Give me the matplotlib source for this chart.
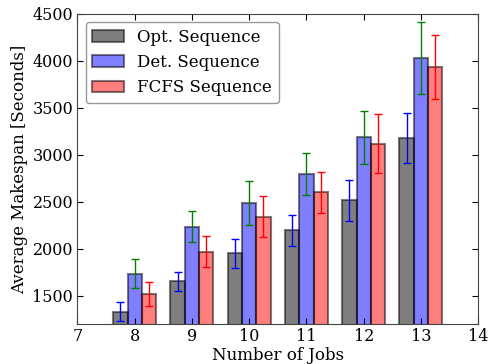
import matplotlib
matplotlib.use("Agg")
import matplotlib.pyplot as plt
import numpy as np

plt.rcParams["font.family"] = "DejaVu Serif"
plt.rcParams["font.size"] = 11

jobs = [8, 9, 10, 11, 12, 13]

opt_mean = [1330, 1655, 1950, 2195, 2515, 3180]
opt_err = [100, 100, 157, 164, 222, 265]

det_mean = [1735, 2235, 2487, 2795, 3186, 4030]
det_err = [153, 167, 235, 226, 280, 382]

fcfs_mean = [1523, 1970, 2342, 2600, 3116, 3935]
fcfs_err = [127, 164, 220, 215, 314, 345]

width = 0.25
x = np.array(jobs)

fig, ax = plt.subplots(figsize=(4.93, 3.64), dpi=100)
fig.subplots_adjust(left=0.157, right=0.970, top=0.962, bottom=0.110)

series = [
    (x - width, opt_mean, opt_err, "k", "blue", "Opt. Sequence"),
    (x, det_mean, det_err, "b", "green", "Det. Sequence"),
    (x + width, fcfs_mean, fcfs_err, "r", "red", "FCFS Sequence"),
]
for pos, mean, err, color, ecolor, label in series:
    ax.bar(pos, mean, width, color=color, alpha=0.5, edgecolor="k",
           linewidth=1.5, label=label)
    ax.errorbar(pos, mean, yerr=err, fmt="none", ecolor=ecolor,
                elinewidth=1, capsize=3, capthick=1)

ax.set_xlim(7, 14)
ax.set_ylim(1200, 4500)
ax.set_xticks(range(7, 15))
ax.set_yticks(range(1500, 4501, 500))
ax.tick_params(direction="in", top=True, right=True, length=4, pad=3,
               labelsize=11.5)
for sp in ax.spines.values():
    sp.set_color("#444444")
ax.set_xlabel("Number of Jobs", fontsize=12, labelpad=1)
ax.set_ylabel("Average Makespan [Seconds]", fontsize=12, labelpad=3)

leg = ax.legend(loc="upper left", fontsize=12, fancybox=True, framealpha=1,
                handlelength=1.9, borderaxespad=0.5)
leg.get_frame().set_edgecolor("#999999")

fig.savefig("out.png", dpi=100)
